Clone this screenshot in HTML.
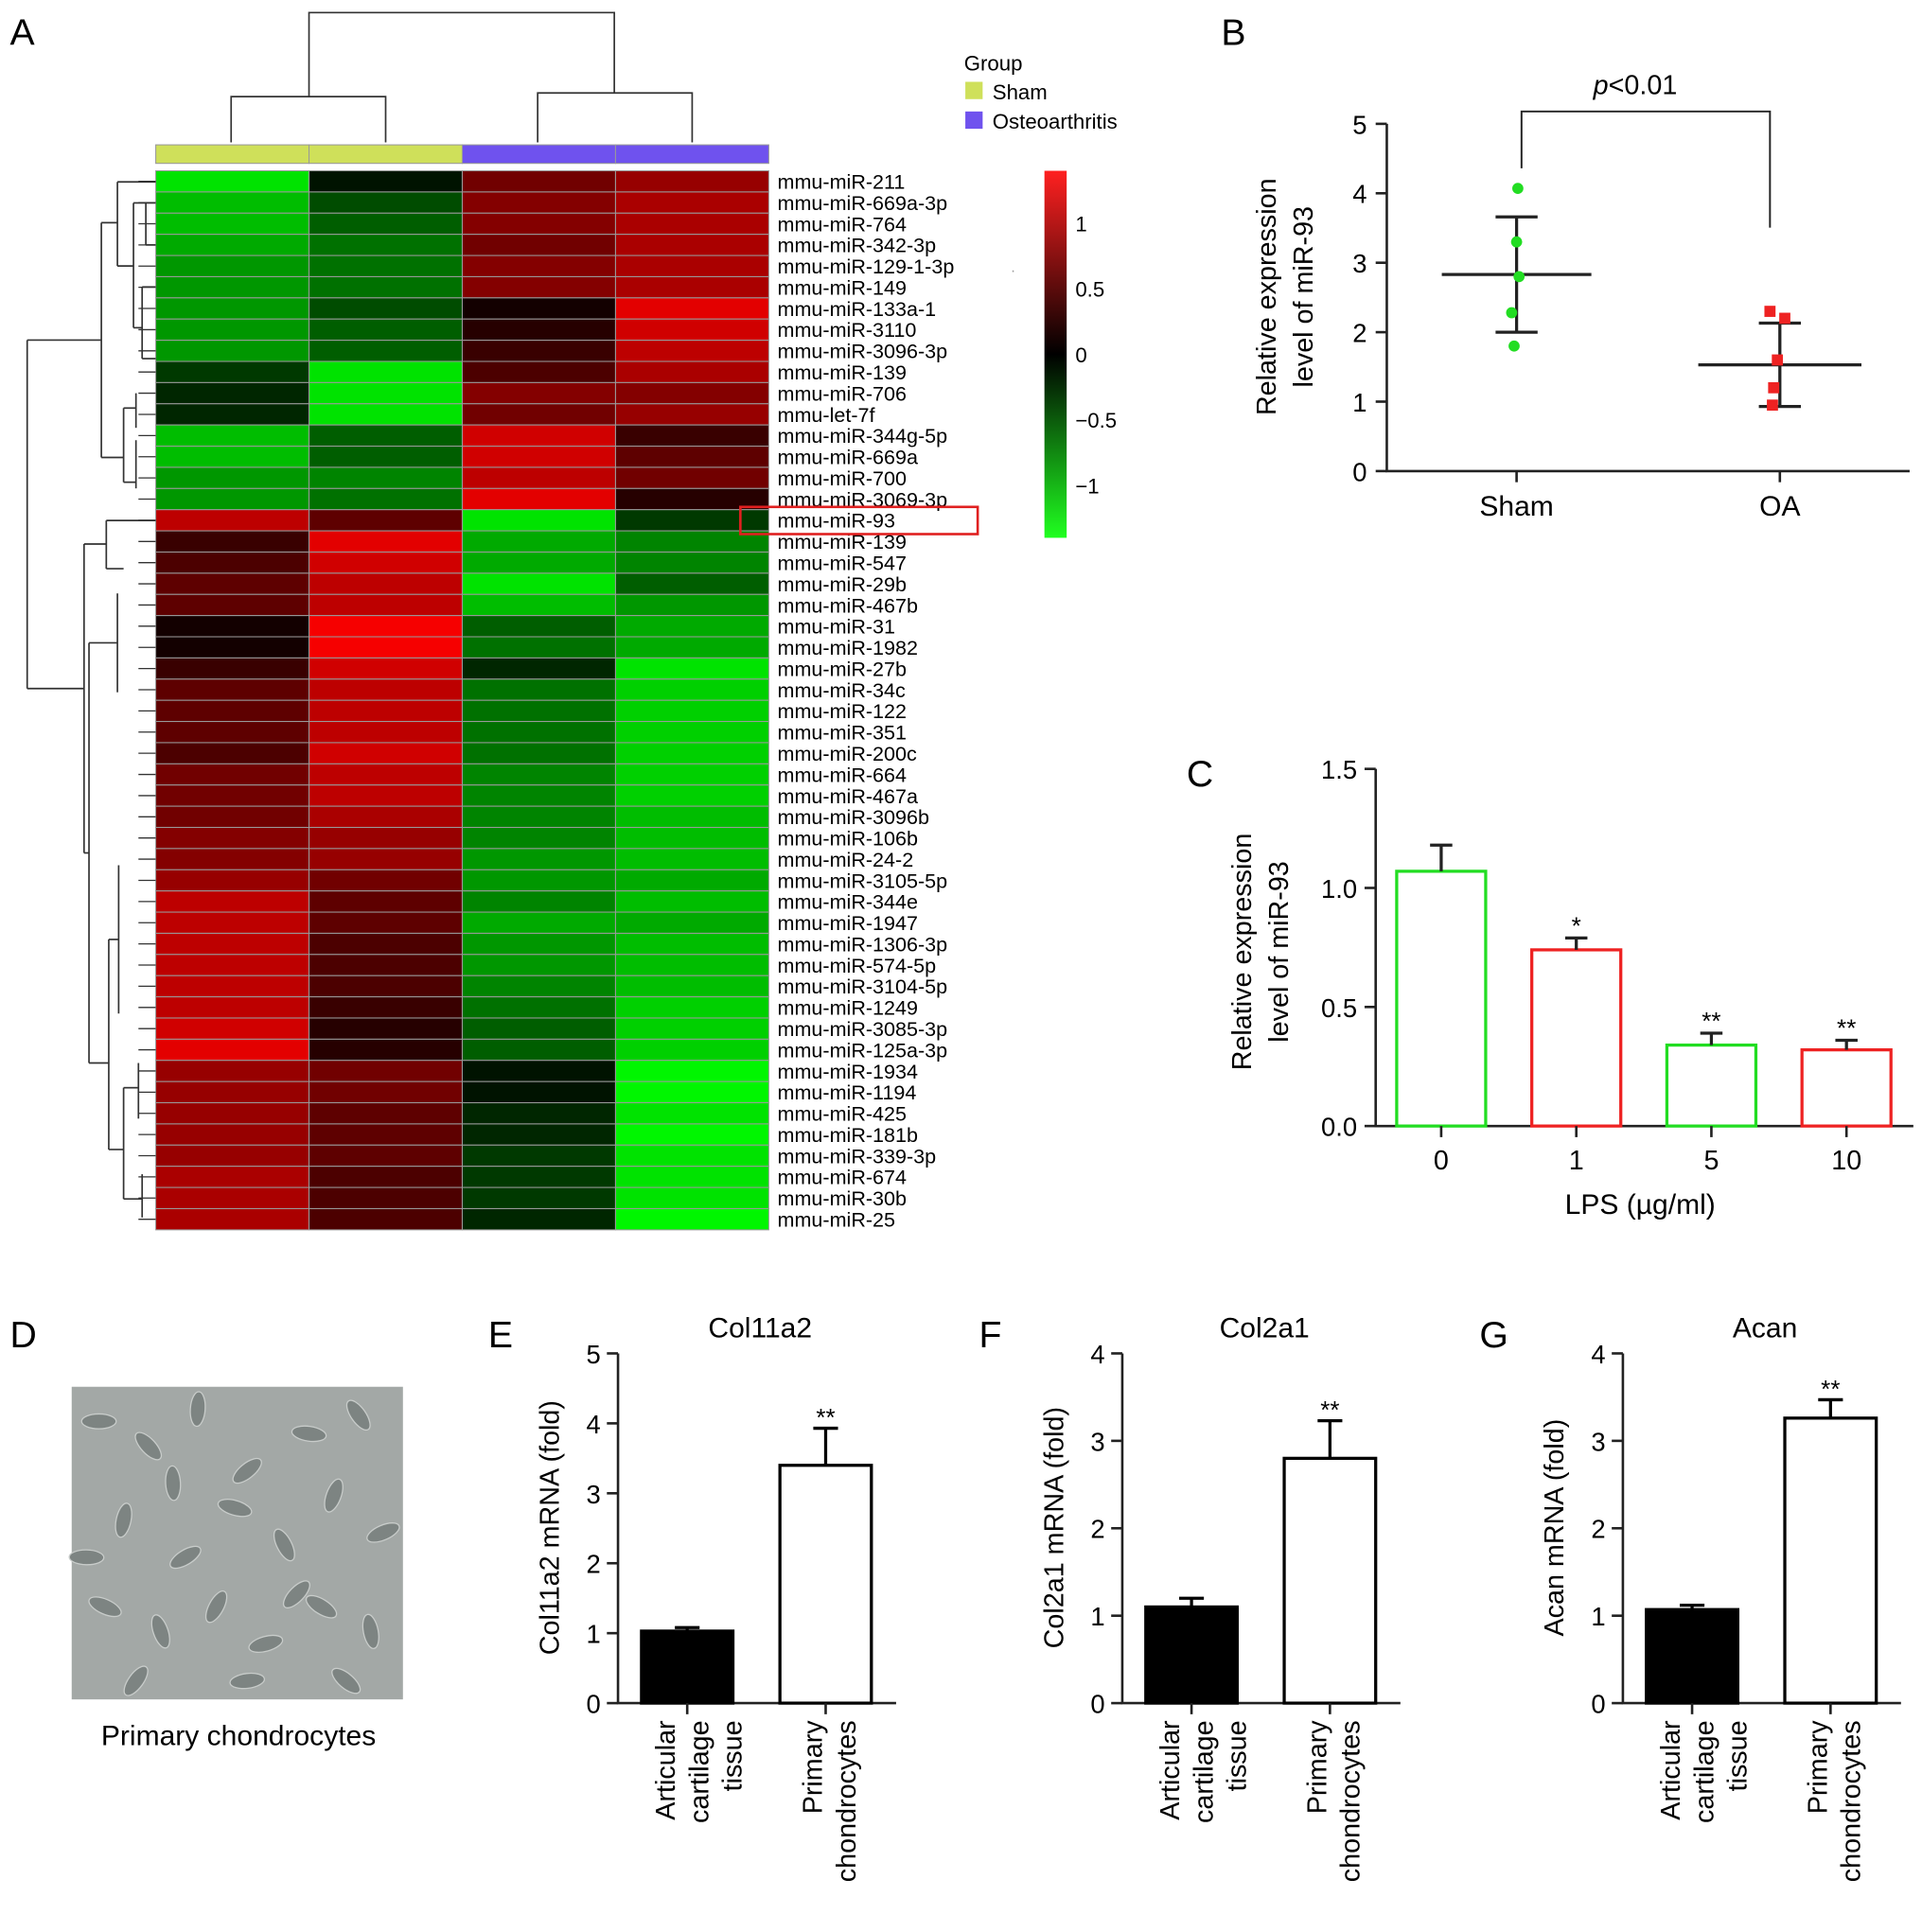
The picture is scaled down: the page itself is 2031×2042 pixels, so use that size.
<!DOCTYPE html>
<html><head><meta charset="utf-8"><style>body{margin:0;background:#fff}svg{display:block}text{font-family:"Liberation Sans",Arial,sans-serif}</style></head>
<body>
<svg id="fig" xmlns="http://www.w3.org/2000/svg" width="2031" height="2042" viewBox="0 0 1555 1563">
<rect width="1555" height="1563" fill="#fff"/>
<g id="hm"></g>
<g id="pb"></g>
<g id="pc"></g>
<g id="pd"></g>
<g id="pe"></g>
<g id="pf"></g>
<g id="pg"></g>
</svg>
<script>
const mirnas=["mmu-miR-211","mmu-miR-669a-3p","mmu-miR-764","mmu-miR-342-3p","mmu-miR-129-1-3p","mmu-miR-149","mmu-miR-133a-1","mmu-miR-3110","mmu-miR-3096-3p","mmu-miR-139","mmu-miR-706","mmu-let-7f","mmu-miR-344g-5p","mmu-miR-669a","mmu-miR-700","mmu-miR-3069-3p","mmu-miR-93","mmu-miR-139","mmu-miR-547","mmu-miR-29b","mmu-miR-467b","mmu-miR-31","mmu-miR-1982","mmu-miR-27b","mmu-miR-34c","mmu-miR-122","mmu-miR-351","mmu-miR-200c","mmu-miR-664","mmu-miR-467a","mmu-miR-3096b","mmu-miR-106b","mmu-miR-24-2","mmu-miR-3105-5p","mmu-miR-344e","mmu-miR-1947","mmu-miR-1306-3p","mmu-miR-574-5p","mmu-miR-3104-5p","mmu-miR-1249","mmu-miR-3085-3p","mmu-miR-125a-3p","mmu-miR-1934","mmu-miR-1194","mmu-miR-425","mmu-miR-181b","mmu-miR-339-3p","mmu-miR-674","mmu-miR-30b","mmu-miR-25"];
const heatValues=[[-1.2,-0.1,0.6,0.8],[-1.0,-0.4,0.7,0.9],[-1.0,-0.5,0.7,0.9],[-0.9,-0.6,0.6,0.9],[-0.8,-0.6,0.7,0.9],[-0.8,-0.6,0.7,0.9],[-0.8,-0.4,0.1,1.2],[-0.8,-0.5,0.2,1.1],[-0.8,-0.5,0.3,1.0],[-0.3,-1.2,0.4,0.9],[-0.2,-1.2,0.7,0.7],[-0.2,-1.2,0.6,0.8],[-1.0,-0.5,1.1,0.3],[-1.0,-0.5,1.1,0.5],[-0.8,-0.7,1.0,0.6],[-0.8,-0.6,1.2,0.2],[1.0,0.5,-1.2,-0.3],[0.3,1.2,-0.9,-0.7],[0.4,1.1,-0.9,-0.7],[0.5,1.0,-1.2,-0.5],[0.5,1.0,-1.0,-0.8],[0.1,1.3,-0.5,-0.9],[0.1,1.3,-0.6,-0.9],[0.3,1.1,-0.2,-1.2],[0.5,1.0,-0.6,-1.1],[0.5,1.0,-0.6,-1.1],[0.5,1.0,-0.6,-1.1],[0.4,1.1,-0.6,-1.1],[0.6,1.0,-0.7,-1.1],[0.6,1.0,-0.7,-1.1],[0.6,0.9,-0.7,-1.0],[0.7,0.8,-0.7,-1.0],[0.7,0.8,-0.8,-1.0],[0.8,0.6,-0.8,-0.9],[1.0,0.5,-0.7,-1.0],[1.0,0.5,-0.9,-0.9],[1.0,0.4,-0.8,-1.0],[1.0,0.4,-0.8,-1.0],[1.0,0.4,-0.7,-1.0],[1.0,0.3,-0.6,-1.1],[1.1,0.2,-0.5,-1.1],[1.2,0.2,-0.5,-1.1],[0.8,0.6,-0.1,-1.3],[0.8,0.6,-0.1,-1.3],[0.8,0.5,-0.2,-1.2],[0.8,0.5,-0.2,-1.3],[0.8,0.5,-0.3,-1.2],[0.9,0.4,-0.3,-1.2],[0.9,0.4,-0.3,-1.2],[0.9,0.4,-0.2,-1.3]];
const groups=["Sham","Sham","Osteoarthritis","Osteoarthritis"];
const cbTicks=[1,0.5,0,-0.5,-1];
const shamPts=[4.07,3.3,2.8,2.28,1.8];
const oaPts=[2.3,2.2,1.6,1.2,0.95];
const bStats=[[2.83,0.83],[1.53,0.6]];
const cCats=["0","1","5","10"];
const cVals=[1.07,0.74,0.34,0.32];
const cErr=[0.11,0.05,0.05,0.04];
const cSig=["","*","**","**"];
const eVals=[1.03,3.4],eErr=[0.05,0.53];
const fVals=[1.1,2.8],fErr=[0.1,0.43];
const gVals=[1.07,3.26],gErr=[0.05,0.21];

const NS="http://www.w3.org/2000/svg";
function el(p,t,a,txt){const e=document.createElementNS(NS,t);for(const k in a)e.setAttribute(k,a[k]);if(txt!==undefined)e.textContent=txt;p.appendChild(e);return e;}
function col(v){const t=Math.max(-1,Math.min(1,v/1.35));if(t>=0)return `rgb(${Math.round(255*t)},0,0)`;return `rgb(0,${Math.round(255*-t)},0)`;}
const black="#222";
// Heatmap
const hm=document.getElementById('hm');
let e=el(hm,'text',{x:8,y:36,'font-size':30},'A');

const hx0=126,hx1=622,hy0=138,hy1=995,cw=(hx1-hx0)/4,rh=(hy1-hy0)/mirnas.length;
heatValues.forEach((r,i)=>r.forEach((v,j)=>{const c=el(hm,'rect',{x:hx0+j*cw,y:hy0+i*rh,width:cw,height:rh,fill:col(v),stroke:'#9a9a9a','stroke-width':0.8});
}));
mirnas.forEach((m,i)=>{const t=el(hm,'text',{x:629,y:hy0+i*rh+rh/2+6,'font-size':16.5},m);
});
groups.forEach((g,j)=>{const r=el(hm,'rect',{x:hx0+j*cw,y:117,width:cw,height:15,fill:g==='Sham'?'#cfe05a':'#6f52ee',stroke:'#999','stroke-width':0.8});
});
const dstyle={stroke:'#333','stroke-width':1.3,fill:'none'};
[ "M187,115V78H312V115","M435,115V75H560V115","M250,78V10H497V75" ].forEach(d=>el(hm,'path',Object.assign({d},dstyle)));
// row dendrogram (approximate)
const yr=i=>hy0+i*rh+rh/2;
const rowD=["M22,275V557","M22,275H82","M22,557H68",
"M82,180V370","M82,180H95","M82,370H100",
"M95,147V215","M95,147H126","M95,215H108","M108,164V265","M108,164H118","M108,265H115",
"M118,164V198","M118,164H126","M118,198H126","M115,232V290","M115,232H126","M115,290H126",
"M100,330V390","M100,330H110","M100,390H110","M110,318V346","M110,356V395",
"M68,440V690","M68,440H86","M68,690H72","M86,421V460","M86,421H126","M86,460H100",
"M72,520V860","M72,520H95","M72,860H88","M95,480V560","M88,760V930","M88,760H96","M88,930H100",
"M96,700V820","M100,880V970","M100,880H112","M100,970H115","M112,860V905","M115,950V985"];
rowD.forEach(d=>el(hm,'path',Object.assign({d},dstyle)));
for(let i=0;i<mirnas.length;i++){el(hm,'path',{d:`M112,${yr(i)}H126`,stroke:'#333','stroke-width':1});}
// legend
el(hm,'text',{x:780,y:57,'font-size':17},'Group');
el(hm,'rect',{x:781,y:66,width:14,height:14,fill:'#cfe05a'});
el(hm,'text',{x:803,y:80,'font-size':17},'Sham');
el(hm,'rect',{x:781,y:90,width:14,height:14,fill:'#6f52ee'});
el(hm,'text',{x:803,y:104,'font-size':17},'Osteoarthritis');
// colorbar
const defs=el(document.getElementById('fig'),'defs',{});
const lg=el(defs,'linearGradient',{id:'cbg',x1:0,y1:0,x2:0,y2:1});
el(lg,'stop',{offset:'0',"stop-color":'#ff2020'});el(lg,'stop',{offset:'0.5',"stop-color":'#000'});el(lg,'stop',{offset:'1',"stop-color":'#20ff20'});
const cb=el(hm,'rect',{x:845,y:138,width:18,height:297,fill:'url(#cbg)'});

const cbY=v=>287-v*106;
cbTicks.forEach(v=>{el(hm,'text',{x:870,y:cbY(v)+6,'font-size':17},v===0?'0':(v<0?'\u2212'+Math.abs(v):String(v)));});
el(hm,'text',{x:818,y:220,'font-size':12,fill:'#999'},'.');
const hl=el(hm,'rect',{x:599,y:410,width:192,height:22,fill:'none',stroke:'#e02020','stroke-width':2});


// Panel B
const pb=document.getElementById('pb');
el(pb,'text',{x:988,y:36,'font-size':30},'B');
const bY=v=>381-v*(281/5);
el(pb,'path',{d:`M1122,100V381H1545`,stroke:black,'stroke-width':2,fill:'none'});
for(let v=0;v<=5;v++){el(pb,'path',{d:`M1113,${bY(v)}H1122`,stroke:black,'stroke-width':2});el(pb,'text',{x:1106,y:bY(v)+8,'font-size':21,'text-anchor':'end'},String(v));}
[1227,1440].forEach(x=>el(pb,'path',{d:`M${x},381V390`,stroke:black,'stroke-width':2}));
el(pb,'text',{x:1227,y:417,'font-size':23,'text-anchor':'middle'},'Sham');
el(pb,'text',{x:1440,y:417,'font-size':23,'text-anchor':'middle'},'OA');
const yl=el(pb,'text',{'font-size':22,'text-anchor':'middle',transform:'translate(1032,240) rotate(-90)'});
el(yl,'tspan',{x:0,y:0},'Relative expression');el(yl,'tspan',{x:0,y:30},'level of miR-93');
const bx=[1227,1440];
bStats.forEach((s,i)=>{const x=bx[i];
el(pb,'path',{d:`M${x-55*(i?1.2:1.1)},${bY(s[0])}H${x+55*(i?1.2:1.1)}M${x},${bY(s[0]-s[1])}V${bY(s[0]+s[1])}M${x-17},${bY(s[0]-s[1])}H${x+17}M${x-17},${bY(s[0]+s[1])}H${x+17}`,stroke:black,'stroke-width':2.5,fill:'none'});});
const offs=[0,-1,1,-5,-3];
shamPts.forEach((v,i)=>{const c=el(pb,'circle',{cx:1228+offs[i],cy:bY(v),r:4.5,fill:'#22dd22'});});
const oofs=[-6,6,0,-3,-4];
oaPts.forEach((v,i)=>{const c=el(pb,'rect',{x:1438+oofs[i]-4.5,y:bY(v)-4.5,width:9,height:9,fill:'#ee2222'});});
el(pb,'path',{d:'M1231,136V90H1432V184',stroke:black,'stroke-width':1.5,fill:'none'});
const pt=el(pb,'text',{x:1323,y:76,'font-size':22,'text-anchor':'middle'});el(pt,'tspan',{'font-style':'italic'},'p');el(pt,'tspan',{},'<0.01');

// Panel C
const pc=document.getElementById('pc');
el(pc,'text',{x:960,y:636,'font-size':30},'C');
const cY=v=>911-v*(289/1.5);
el(pc,'path',{d:'M1113,622V911H1548',stroke:black,'stroke-width':2,fill:'none'});
[0,0.5,1,1.5].forEach(v=>{el(pc,'path',{d:`M1104,${cY(v)}H1113`,stroke:black,'stroke-width':2});el(pc,'text',{x:1098,y:cY(v)+8,'font-size':21,'text-anchor':'end'},v.toFixed(1));});
const cyl=el(pc,'text',{'font-size':22,'text-anchor':'middle',transform:'translate(1012,770) rotate(-90)'});
el(cyl,'tspan',{x:0,y:0},'Relative expression');el(cyl,'tspan',{x:0,y:30},'level of miR-93');
const cX=i=>1166+i*109.3;
cVals.forEach((v,i)=>{const x=cX(i),c=i%2?'#ee2222':'#22dd22';
const b=el(pc,'rect',{x:x-36,y:cY(v),width:72,height:911-cY(v),fill:'#fff',stroke:c,'stroke-width':2.5});

el(pc,'path',{d:`M${x},${cY(v)}V${cY(v+cErr[i])}M${x-9},${cY(v+cErr[i])}H${x+9}`,stroke:black,'stroke-width':2.5});
if(cSig[i])el(pc,'text',{x:x,y:cY(v+cErr[i])-3,'font-size':20,'text-anchor':'middle'},cSig[i]);
el(pc,'path',{d:`M${x},911V920`,stroke:black,'stroke-width':2});
el(pc,'text',{x:x,y:946,'font-size':22,'text-anchor':'middle'},cCats[i]);});
el(pc,'text',{x:1327,y:982,'font-size':23,'text-anchor':'middle'},'LPS (\u00b5g/ml)');

// Panel D
const pd=document.getElementById('pd');
el(pd,'text',{x:8,y:1090,'font-size':30},'D');
const img=el(pd,'rect',{x:58,y:1122,width:268,height:253,fill:'#a3a8a6'});

const cells=[[80,1150],[120,1170],[160,1140],[200,1190],[250,1160],[290,1145],[100,1230],[150,1260],[190,1220],[230,1250],[270,1210],[310,1240],[85,1300],[130,1320],[175,1300],[215,1330],[260,1300],[300,1320],[110,1360],[200,1360],[280,1360],[140,1200],[240,1290],[70,1260]];
cells.forEach((c,i)=>{el(pd,'ellipse',{cx:c[0],cy:c[1],rx:14,ry:6,fill:'#7d8482',transform:`rotate(${(i*47)%180} ${c[0]} ${c[1]})`,stroke:'#c8ccca','stroke-width':1});});
el(pd,'text',{x:193,y:1412,'font-size':23,'text-anchor':'middle'},'Primary chondrocytes');

// E/F/G
function barPanel(id,letter,lx,title,ax,ymax,vals,errs,ylab){
 const g=document.getElementById(id);
 el(g,'text',{x:lx,y:1090,'font-size':30},letter);
 const Y=v=>1378-v*(283/ymax);
 el(g,'text',{x:ax+115,y:1082,'font-size':23,'text-anchor':'middle'},title);
 el(g,'path',{d:`M${ax},1095V1378H${ax+225}`,stroke:black,'stroke-width':2,fill:'none'});
 for(let v=0;v<=ymax;v++){el(g,'path',{d:`M${ax-9},${Y(v)}H${ax}`,stroke:black,'stroke-width':2});el(g,'text',{x:ax-14,y:Y(v)+8,'font-size':21,'text-anchor':'end'},String(v));}
 const yt=el(g,'text',{x:0,y:0,'font-size':22,'text-anchor':'middle',transform:`translate(${ax-48},1236) rotate(-90)`},ylab);
 const xs=[ax+56,ax+168];
 vals.forEach((v,i)=>{const x=xs[i];
  const b=el(g,'rect',{x:x-37,y:Y(v),width:74,height:1378-Y(v),fill:i?'#fff':'#000',stroke:'#000','stroke-width':2.5});
  
  el(g,'path',{d:`M${x},${Y(v)}V${Y(v+errs[i])}M${x-10},${Y(v+errs[i])}H${x+10}`,stroke:'#000','stroke-width':2.5});
  if(i)el(g,'text',{x:x,y:Y(v+errs[i])-2,'font-size':20,'text-anchor':'middle'},'**');
  el(g,'path',{d:`M${x},1378V1387`,stroke:black,'stroke-width':2});});
 const l1=el(g,'text',{'font-size':22,'text-anchor':'end',transform:`translate(${xs[0]-10},1392) rotate(-90)`});
 el(l1,'tspan',{x:0,y:0},'Articular');el(l1,'tspan',{x:0,y:27},'cartilage');el(l1,'tspan',{x:0,y:54},'tissue');
 const l2=el(g,'text',{'font-size':22,'text-anchor':'end',transform:`translate(${xs[1]-3},1392) rotate(-90)`});
 el(l2,'tspan',{x:0,y:0},'Primary');el(l2,'tspan',{x:0,y:27},'chondrocytes');
}
barPanel('pe','E',395,'Col11a2',500,5,eVals,eErr,'Col11a2 mRNA (fold)');
barPanel('pf','F',792,'Col2a1',908,4,fVals,fErr,'Col2a1 mRNA (fold)');
barPanel('pg','G',1197,'Acan',1313,4,gVals,gErr,'Acan mRNA (fold)');
</script>
</body></html>
